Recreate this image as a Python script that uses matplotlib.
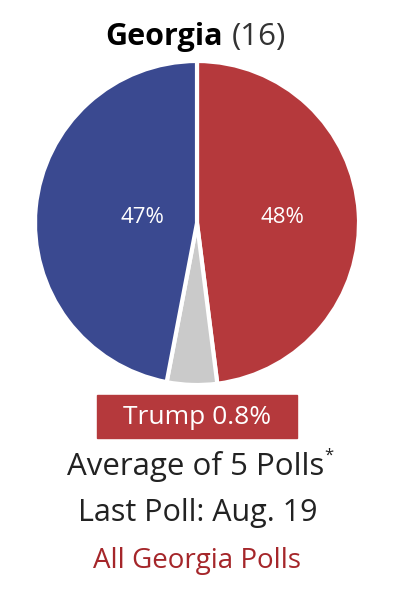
import matplotlib.pyplot as plt
from matplotlib.patches import Rectangle

plt.rcParams['font.family'] = ['Open Sans', 'DejaVu Sans']

state = "Georgia"
electoral_votes = 16
candidates = ["Trump", "Other", "Clinton"]
shares = [48, 5, 47]
colors = ["#b5393c", "#cacaca", "#3a4990"]
leader = "Trump"
margin = 0.8
n_polls = 5
last_poll = "Aug. 19"

W, H = 394, 590
fig = plt.figure(figsize=(W / 100, H / 100), dpi=100)

# title
fig.text(223 / W, 1 - 37 / H, state, ha="right", va="center", fontsize=22,
         fontweight="bold", color="black")
fig.text(232 / W, 1 - 37 / H, f"({electoral_votes})", ha="left", va="center",
         fontsize=22.5, color="#333333")

# pie
ax = fig.add_axes([35 / W, 1 - 385 / H, 324 / W, 324 / H])
wedges, texts, autotexts = ax.pie(
    shares, colors=colors, startangle=90, counterclock=False,
    autopct=lambda p: f"{p:.0f}%" if p > 10 else "", pctdistance=0.53,
    wedgeprops=dict(edgecolor="white", linewidth=3),
    textprops=dict(color="white", fontsize=16))
# blue label sits closer to the centre in the original
x, y = autotexts[2].get_position()
autotexts[2].set_position((x * 0.64, y * 0.64))
ax.set_aspect("equal")
ax.set_xlim(-1.0, 1.0)
ax.set_ylim(-1.0, 1.0)
ax.axis("off")

# margin box
fig.patches.append(Rectangle((97 / W, 1 - 438 / H), 200 / W, 43 / H,
                             transform=fig.transFigure, color="#b5393c"))
fig.text(0.5, 1 - 418 / H, f"{leader} {margin}%", ha="center", va="center",
         fontsize=19, color="white")

avg = fig.text(0.496, 1 - 466 / H, f"Average of {n_polls} Polls", ha="center",
               va="center", fontsize=22.5, color="#222222")
ax.annotate("*", xy=(1.0, 0.82), xycoords=avg, ha="left", va="center",
            fontsize=12, color="#222222", annotation_clip=False)
fig.text(0.503, 1 - 513 / H, f"Last Poll: {last_poll}", ha="center", va="center",
         fontsize=22, color="#222222")
fig.text(0.5, 1 - 561 / H, f"All {state} Polls", ha="center", va="center",
         fontsize=20, color="#a5262a")

fig.savefig("out.png", dpi=100)
